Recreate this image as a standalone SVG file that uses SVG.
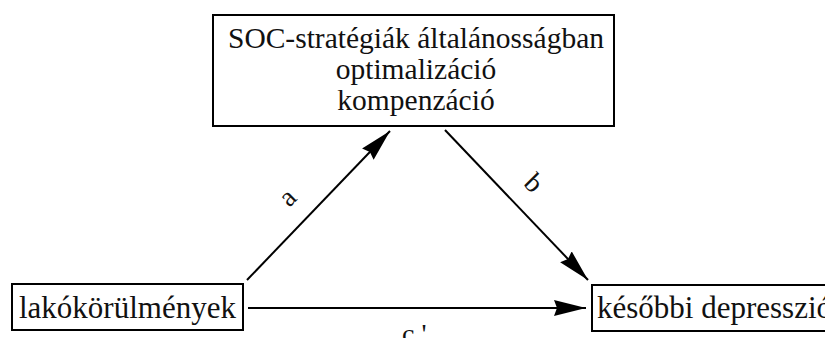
<svg xmlns="http://www.w3.org/2000/svg" width="825" height="338" viewBox="0 0 825 338">
<style>
.box{fill:#fff;stroke:#000;stroke-width:2}
.t{font-family:"Liberation Serif","Times New Roman",serif;font-size:29.5px;fill:#111}
.n{font-family:"Liberation Serif","Times New Roman",serif;font-size:31px;fill:#111}
.l{font-family:"Liberation Serif","Times New Roman",serif;font-size:28px;fill:#111}
.c{stroke:#000;stroke-width:2;fill:none}
</style>
<defs>
<marker id="ah" markerUnits="userSpaceOnUse" markerWidth="34" markerHeight="18" refX="32" refY="8" orient="auto">
<path d="M0,0 L32,8 L0,16 L3,8 Z" fill="#000"/>
</marker>
</defs>
<rect width="825" height="338" fill="#fff"/>
<g id="soc">
<rect class="box" x="213" y="15" width="401" height="111"/>
<text class="t" x="416" y="48" text-anchor="middle">SOC-stratégiák általánosságban</text>
<text class="t" x="416" y="79" text-anchor="middle">optimalizáció</text>
<text class="t" x="416" y="110" text-anchor="middle">kompenzáció</text>
</g>
<g id="lako">
<rect class="box" x="12" y="284" width="231" height="46"/>
<text class="n" x="19" y="318">lakókörülmények</text>
</g>
<g id="kesobbi">
<rect class="box" x="592" y="285" width="240" height="46"/>
<text class="n" x="597" y="318">későbbi depresszió</text>
</g>
<g id="connectors">
<line class="c" x1="247" y1="280" x2="390" y2="131" marker-end="url(#ah)"/>
<line class="c" x1="445" y1="130" x2="588" y2="280" marker-end="url(#ah)"/>
<line class="c" x1="248" y1="308" x2="586" y2="308" marker-end="url(#ah)"/>
<text class="l" transform="translate(289,199) rotate(-45)" text-anchor="middle" dominant-baseline="middle">a</text>
<text class="l" transform="translate(532,185) rotate(45)" text-anchor="middle" dominant-baseline="middle">b</text>
<text class="l" x="402" y="343">c '</text>
</g>
</svg>
